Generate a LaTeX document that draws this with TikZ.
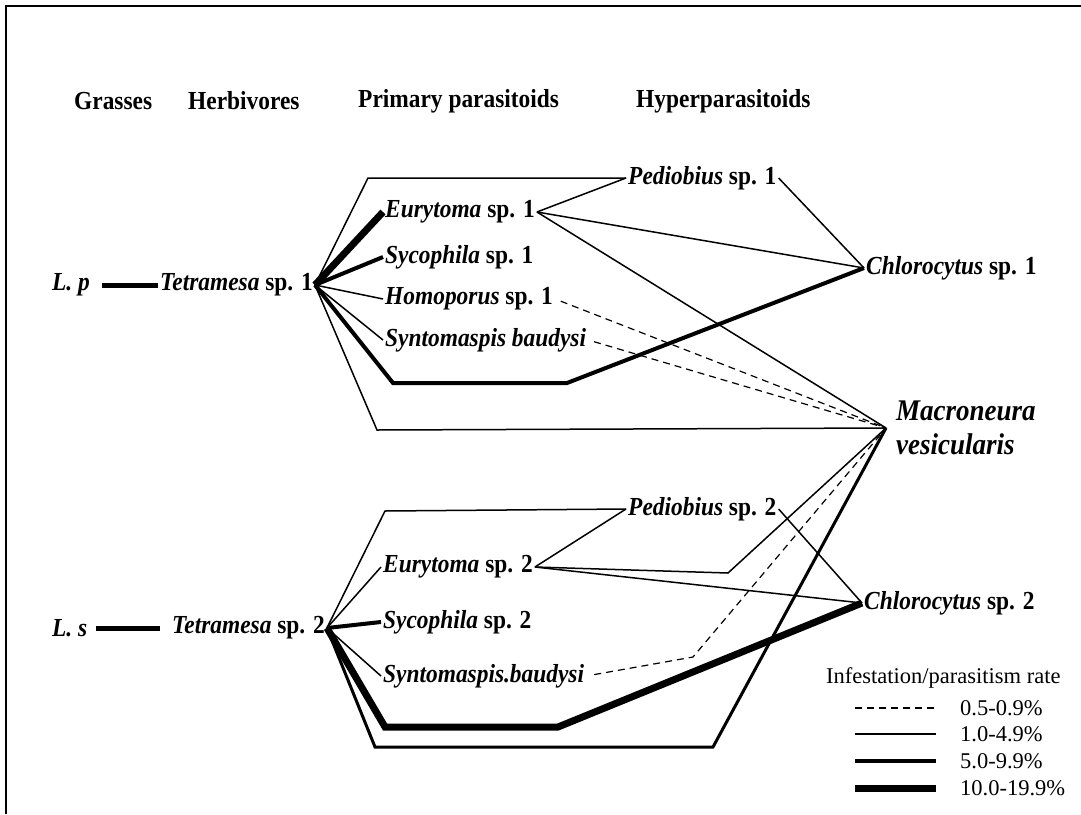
\documentclass[tikz,border=0pt]{standalone}
\usepackage{fontspec}
\setmainfont{Liberation Serif}[FakeStretch=0.9]
\newfontfamily\legfont{Liberation Serif}
\begin{document}
\begin{tikzpicture}[x=1pt,y=-1pt,
  frame/.style={line width=2pt},
  head/.style={font=\fontsize{26}{30}\selectfont\bfseries, anchor=west, inner sep=0pt},
  lab/.style={font=\fontsize{26}{30}\selectfont\bfseries, anchor=west, inner sep=2pt},
  big/.style={font=\fontsize{30}{34}\selectfont\bfseries\itshape, anchor=west, inner sep=0pt, align=left},
  leg/.style={font=\legfont\fontsize{22.5}{26}\selectfont, anchor=west, inner sep=0pt},
  rdash/.style={line width=1.2pt, dash pattern=on 7pt off 5pt},
  rthin/.style={line width=1.5pt},
  rmed/.style={line width=4pt},
  rthick/.style={line width=7pt},
]
\useasboundingbox (0,0) rectangle (1081,814);
\fill[white] (0,0) rectangle (1081,814);

% frame (top and left edges)
\draw[frame] (6,814) -- (6,6) -- (1081,6);

% column headings
\node[head] (hg) at (74,101) {Grasses};
\node[head] (hh) at (188,101) {Herbivores};
\node[head] (hp) at (358,101) {Primary parasitoids};
\node[head] (hy) at (636,101) {Hyperparasitoids};

% ---------- upper web ----------
\node[lab] (Lp) at (50,285) {\itshape L. p};
\node[lab] (T1) at (158,285) {\textit{Tetramesa} sp. 1};
\node[lab] (E1) at (383,212) {\textit{Eurytoma} sp. 1};
\node[lab] (S1) at (383,257) {\textit{Sycophila} sp. 1};
\node[lab] (H1) at (383,299) {\textit{Homoporus} sp. 1};
\node[lab] (Y1) at (383,340) {\textit{Syntomaspis baudysi}};
\node[lab] (P1) at (626,178) {\textit{Pediobius} sp. 1};
\node[lab] (C1) at (864,268) {\textit{Chlorocytus} sp. 1};
\node[big] (M) at (886,428) {\hspace*{10pt}Macroneura\\\hspace*{10pt}vesicularis};

\coordinate (a1) at (368,178);
\coordinate (b1) at (393,383);
\coordinate (b2) at (567,383);
\coordinate (c1) at (377,430);

\draw[line width=5pt, shorten <=10pt] (Lp.east) -- (T1.west);
\draw[rthick] (T1.east) -- (E1.west);
\draw[rmed] (T1.east) -- (S1.west);
\draw[rthin] (T1.east) -- (H1.west);
\draw[rthin] (T1.east) -- (Y1.west);
\draw[rthin] (T1.east) -- (a1) -- (P1.west);
\draw[rmed] (T1.east) -- (b1) -- (b2) -- (C1.west);
\draw[rthin] (T1.east) -- (c1) -- (M.west);
\draw[rthin] (E1.east) -- (P1.west);
\draw[rthin] (E1.east) -- (C1.west);
\draw[rthin] (E1.east) -- (M.west);
\draw[rthin] (P1.east) -- (C1.west);
\draw[rdash, shorten <=6pt] (H1.east) -- (M.west);
\draw[rdash, shorten <=6pt] (Y1.east) -- (M.west);

% ---------- lower web ----------
\node[lab] (Ls) at (50,628) {\itshape L. s};
\node[lab] (T2) at (170,628) {\textit{Tetramesa} sp. 2};
\node[lab] (E2) at (381,567) {\textit{Eurytoma} sp. 2};
\node[lab] (S2) at (381,622) {\textit{Sycophila} sp. 2};
\node[lab] (Y2) at (381,676) {\textit{Syntomaspis.baudysi}};
\node[lab] (P2) at (626,509) {\textit{Pediobius} sp. 2};
\node[lab] (C2) at (862,603) {\textit{Chlorocytus} sp. 2};

\coordinate (d1) at (385,511);
\coordinate (e1) at (728,573);
\coordinate (f1) at (385,727);
\coordinate (f2) at (558,727);
\coordinate (g1) at (375,747);
\coordinate (g2) at (713,747);
\coordinate (h1) at (693,657);

\draw[line width=5pt, shorten <=6pt, shorten >=10pt] (Ls.east) -- (T2.west);
\draw[rthin] (T2.east) -- (E2.west);
\draw[rmed] (T2.east) -- (S2.west);
\draw[rthin] (T2.east) -- (Y2.west);
\draw[rthin] (T2.east) -- (d1) -- (P2.west);
\draw[rthick] (T2.east) -- (f1) -- (f2) -- (C2.west);
\draw[line width=3pt] (T2.east) -- (g1) -- (g2) -- (M.west);
\draw[rthin] (E2.east) -- (P2.west);
\draw[rthin] (E2.east) -- (e1) -- (M.west);
\draw[rthin] (E2.east) -- (C2.west);
\draw[rthin] (P2.east) -- (C2.west);
\draw[rdash, shorten <=8pt] (Y2.east) -- (h1) -- (M.west);

% ---------- legend ----------
\node[leg] (lt) at (826,678) {Infestation/parasitism rate};
\node[leg] (l1) at (960,708) {0.5-0.9\%};
\node[leg] (l2) at (960,734) {1.0-4.9\%};
\node[leg] (l3) at (960,761) {5.0-9.9\%};
\node[leg] (l4) at (960,788) {10.0-19.9\%};
\coordinate (k1) at (855,708);
\coordinate (k2) at (855,734);
\coordinate (k3) at (855,761);
\coordinate (k4) at (855,788);
\draw[rdash] (k1) -- ([xshift=-24pt]l1.west);
\draw[rthin] (k2) -- ([xshift=-24pt]l2.west);
\draw[rmed] (k3) -- ([xshift=-24pt]l3.west);
\draw[rthick] (k4) -- ([xshift=-24pt]l4.west);
\end{tikzpicture}
\end{document}
